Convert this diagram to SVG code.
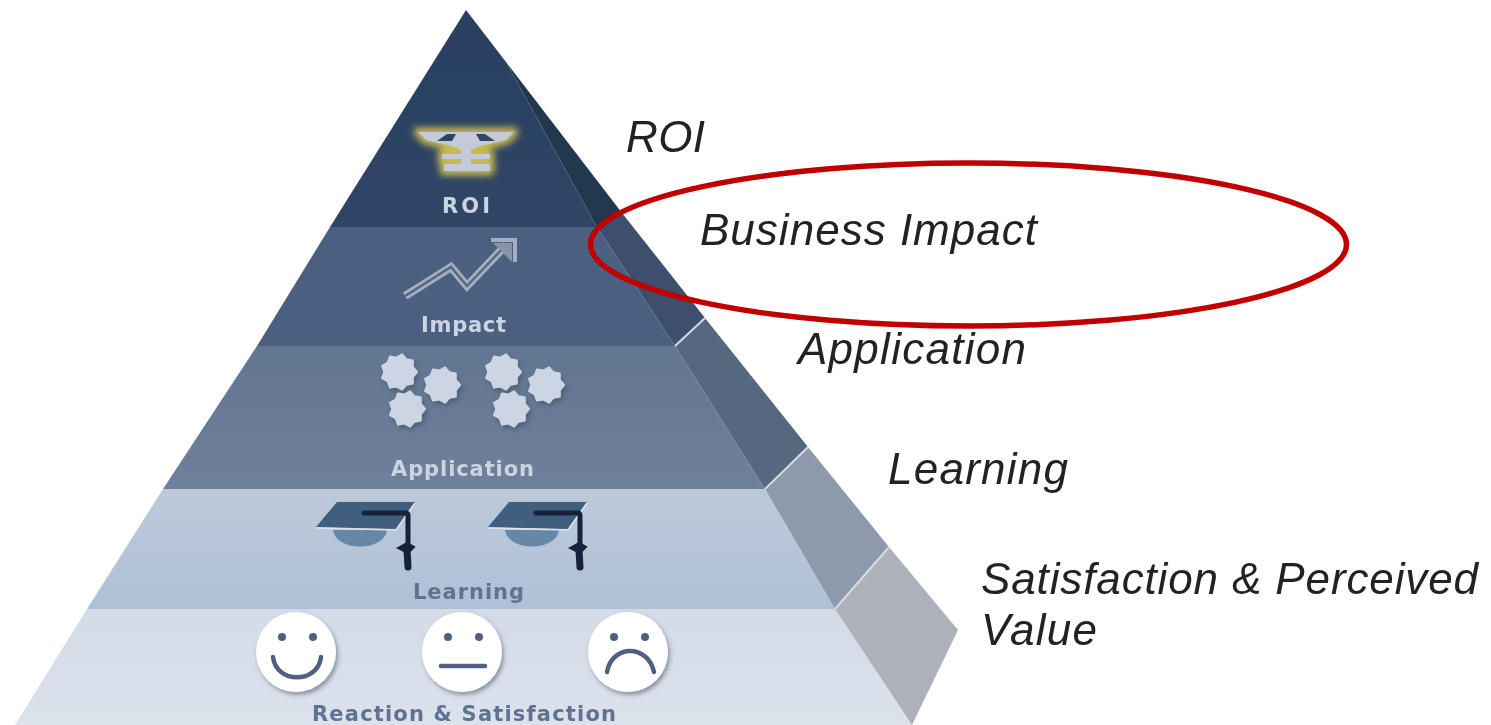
<svg xmlns="http://www.w3.org/2000/svg" width="1491" height="725" viewBox="0 0 1491 725">
<style>
.in{font-family:"DejaVu Sans","Liberation Sans",sans-serif;font-size:21px;font-weight:700;text-anchor:start}
.lt{fill:#ccd4e1}
.dk{fill:#617292}
.out{font-family:"Liberation Sans",Arial,sans-serif;font-size:44px;font-style:italic;fill:#222}
.sep{stroke:#d5dbe4;stroke-width:2;fill:none}
.face{fill:#fff;filter:url(#shadow)}
.eye{fill:#4f5f80}
.mouth{fill:none;stroke:#4f5f80;stroke-width:4.500;stroke-linecap:round}
.gear{fill:#ccd5e3;stroke:#ccd5e3;stroke-width:2;stroke-linejoin:round;filter:url(#shadow)}
</style>
<defs>
<filter id="soft" x="-5%" y="-5%" width="110%" height="110%"><feGaussianBlur stdDeviation="0.7"/></filter>
<filter id="glowf" x="-30%" y="-30%" width="160%" height="160%"><feGaussianBlur stdDeviation="3.5"/></filter>
<filter id="shadow" x="-30%" y="-30%" width="170%" height="170%"><feDropShadow dx="2" dy="3" stdDeviation="2" flood-color="#3a4558" flood-opacity="0.5"/></filter>
<linearGradient id="g1" x1="0" y1="0" x2="0" y2="1"><stop offset="0" stop-color="#2a4060"/><stop offset="1" stop-color="#2e4566"/></linearGradient>
<linearGradient id="g2" x1="0" y1="0" x2="0" y2="1"><stop offset="0" stop-color="#4c6180"/><stop offset="1" stop-color="#4b5f80"/></linearGradient>
<linearGradient id="g3" x1="0" y1="0" x2="0" y2="1"><stop offset="0" stop-color="#627591"/><stop offset="1" stop-color="#6e809c"/></linearGradient>
<linearGradient id="g4" x1="0" y1="0" x2="0" y2="1"><stop offset="0" stop-color="#bcc9da"/><stop offset="1" stop-color="#afc0d6"/></linearGradient>
<linearGradient id="g5" x1="0" y1="0" x2="0" y2="1"><stop offset="0" stop-color="#d2dbe7"/><stop offset="1" stop-color="#dce2ec"/></linearGradient>
<polygon id="gear" points="18,0 13.800,5 13.800,11.600 7.400,12.700 3.100,17.700 -2.600,14.500 -9,15.600 -11.300,9.500 -16.900,6.200 -14.700,0 -16.900,-6.200 -11.300,-9.500 -9,-15.600 -2.600,-14.500 3.100,-17.700 7.400,-12.700 13.800,-11.600 13.800,-5"/>
<path id="emblem" d="M418 132H514L506 140L480 146L471 150V154H490V159H471V164H490V171H444V164H461V159H442V154H461V150L452 146L426 140Z"/>
<g id="cap">
<path d="M333 530C336 552 384 552 387 530Z" fill="#6688a6"/>
<path d="M337 502H415L396 529L316 527Z" fill="#3f5f7f"/>
<path d="M316 528L396 530L415 503" fill="none" stroke="#dde4ee" stroke-width="1.500"/>
<path d="M364 513H406Q408 513 408 516V545" fill="none" stroke="#14233a" stroke-width="5" stroke-linecap="round"/>
<path d="M407 550L408 567" fill="none" stroke="#14233a" stroke-width="7" stroke-linecap="round"/>
<path d="M398 548L407 543L414 547L408 553Z" fill="#14233a" stroke="#14233a" stroke-width="2"/>
</g>
</defs>
<rect width="1491" height="725" fill="#fff"/>
<g filter="url(#soft)">
<g id="level-roi">
<path d="M466 10L506 62L597 227H330Z" fill="url(#g1)"/>
<path d="M506 62L622 213L597 227Z" fill="#233750"/>
<use href="#emblem" fill="#d9c64f" stroke="#d9c64f" stroke-width="9" stroke-linejoin="round" opacity="0.9" filter="url(#glowf)"/>
<use href="#emblem" fill="#c3cbd8"/>
<path d="M437 141L447 134H456L452 141ZM495 141L485 134H476L480 141Z" fill="#2d4464"/>
<text class="in lt" x="442" y="213" textLength="48">ROI</text>
</g>
<g id="level-impact">
<path d="M330 227H597L675 346H257Z" fill="url(#g2)"/>
<path d="M597 227L622 213L705 318L675 346Z" fill="#3d4f6c"/>
<path d="M405 296L451 267L467 286L506 245" fill="none" stroke="#a4aebf" stroke-width="8"/>
<path d="M405 296L451 267L467 286L506 245" fill="none" stroke="#556985" stroke-width="2.500"/>
<path d="M491 240H515V262" fill="none" stroke="#a4aebf" stroke-width="4"/>
<path d="M493 243H512V262Z" fill="#8794a9"/>
<text class="in lt" x="421" y="332" textLength="85">Impact</text>
</g>
<g id="level-application">
<path d="M257 346H675L765 489H163Z" fill="url(#g3)"/>
<path d="M675 346L705 318L808 447L765 489Z" fill="#566880"/>
<use class="gear" href="#gear" x="399" y="372"/>
<use class="gear" href="#gear" x="442" y="385"/>
<use class="gear" href="#gear" x="407" y="409"/>
<use class="gear" href="#gear" x="503" y="372"/>
<use class="gear" href="#gear" x="546" y="385"/>
<use class="gear" href="#gear" x="511" y="409"/>
<text class="in lt" x="391" y="476" textLength="143">Application</text>
</g>
<g id="level-learning">
<path d="M163 489H765L835 609H87Z" fill="url(#g4)"/>
<path d="M765 489L808 447L889 547L835 609Z" fill="#8e99ab"/>
<use href="#cap"/>
<use href="#cap" x="172"/>
<text class="in dk" x="413" y="599" textLength="111">Learning</text>
</g>
<g id="level-reaction">
<path d="M87 609H835L912 725H15Z" fill="url(#g5)"/>
<path d="M835 609L889 547L958 630L912 725Z" fill="#adb1b9"/>
<circle class="face" cx="296" cy="652" r="40"/>
<circle class="eye" cx="282" cy="637" r="4"/><circle class="eye" cx="313" cy="637" r="4"/>
<path class="mouth" d="M273 657C276 684 318 684 321 657"/>
<circle class="face" cx="462" cy="652" r="40"/>
<circle class="eye" cx="448" cy="637" r="4"/><circle class="eye" cx="479" cy="637" r="4"/>
<path class="mouth" d="M441 666H485"/>
<circle class="face" cx="628" cy="652" r="40"/>
<circle class="eye" cx="614" cy="637" r="4"/><circle class="eye" cx="645" cy="637" r="4"/>
<path class="mouth" d="M607 672C612 644 648 644 654 672"/>
<text class="in dk" x="312" y="721" textLength="304">Reaction &amp; Satisfaction</text>
</g>
<g id="separators">
<path class="sep" d="M675 346L705 318M765 489L808 447M835 609L889 547"/>
</g>
<g id="labels">
<text class="out" x="626" y="152" textLength="79">ROI</text>
<text class="out" x="700" y="245" textLength="337">Business Impact</text>
<text class="out" x="798" y="364" textLength="228">Application</text>
<text class="out" x="888" y="484" textLength="180">Learning</text>
<text class="out" x="981" y="594" textLength="497">Satisfaction &amp; Perceived</text>
<text class="out" x="981" y="645" textLength="116">Value</text>
</g>
<g id="highlight">
<ellipse cx="968.500" cy="244.500" rx="378" ry="81.500" fill="none" stroke="#c00000" stroke-width="5.500"/>
</g>
</g>
</svg>
